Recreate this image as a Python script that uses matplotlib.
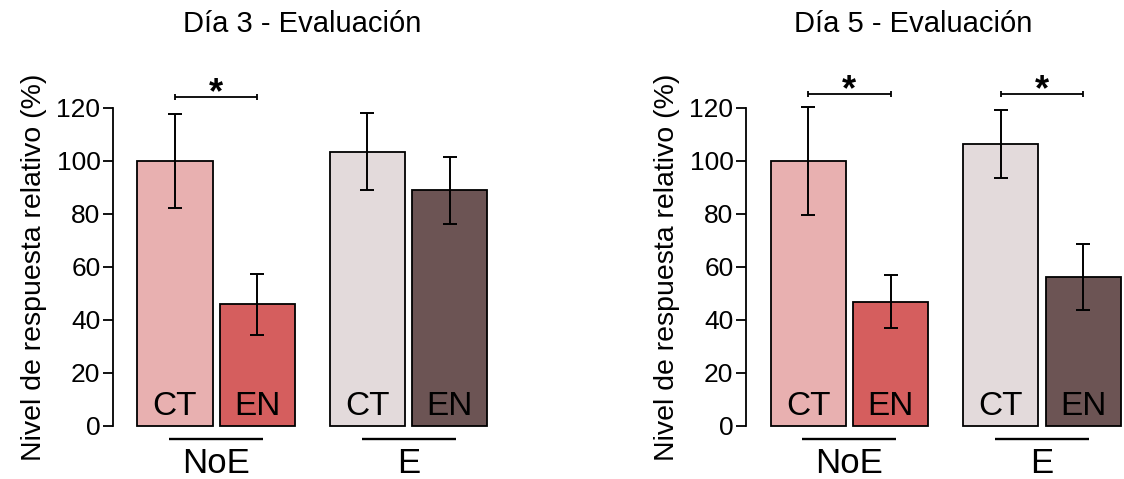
import matplotlib
matplotlib.use("Agg")
import matplotlib.pyplot as plt

plt.rcParams['font.family'] = ['Liberation Sans', 'DejaVu Sans']

titles = ["Día 3 - Evaluación", "Día 5 - Evaluación"]
ylabel = "Nivel de respuesta relativo (%)"
bar_labels = ["CT", "EN", "CT", "EN"]
groups = ["NoE", "E"]
colors = ['#E8B0B0', '#D55E5E', '#E3DADB', '#6C5454']

day3_mean = [100, 45.9, 103.5, 88.9]
day3_err = [17.8, 11.5, 14.5, 12.5]
day5_mean = [100, 46.8, 106.5, 56.2]
day5_err = [20.4, 10.0, 12.9, 12.5]

day3_sig = [(0, 1)]
day5_sig = [(0, 1), (2, 3)]

x = [0, 1, 2.333, 3.333]
group_x = [0.5, 2.833]

fig = plt.figure(figsize=(11.24, 4.79), dpi=100)
ax_l = fig.add_axes([0.1005, 0.1107, 0.334, 0.6639])
ax_r = fig.add_axes([0.6637, 0.1107, 0.3344, 0.6639])

panels = [
    (ax_l, day3_mean, day3_err, day3_sig, 124.3, titles[0], 0.503),
    (ax_r, day5_mean, day5_err, day5_sig, 125.3, titles[1], 0.444),
]

for ax, mean, err, sig, sig_y, title, tx in panels:
    ax.bar(x, mean, width=0.91, color=colors, edgecolor='black', linewidth=1.3,
           clip_on=False, zorder=2)
    ax.errorbar(x, mean, yerr=err, fmt='none', ecolor='black', elinewidth=1.4,
                capsize=5, capthick=1.4, clip_on=False, zorder=3)

    for xi, lab in zip(x, bar_labels):
        ax.text(xi, 4.15, lab, ha='center', va='baseline', fontsize=24)

    for gx, g in zip(group_x, groups):
        ax.plot([gx - 0.57, gx + 0.57], [-4.8, -4.8], color='black', lw=1.7,
                clip_on=False, solid_capstyle='butt')
        ax.text(gx, -17.7, g, ha='center', va='baseline', fontsize=25, clip_on=False)

    for a, b in sig:
        ax.errorbar([(x[a] + x[b]) / 2], [sig_y], xerr=[(x[b] - x[a]) / 2],
                    fmt='none', ecolor='black', elinewidth=1.3, capsize=2.5,
                    capthick=1.3, clip_on=False)
        ax.text((x[a] + x[b]) / 2, sig_y - 2.4, '*', ha='center', va='baseline',
                fontsize=26, fontweight='bold', clip_on=False)

    ax.set_xlim(-0.752, 3.8)
    ax.set_ylim(0, 120)
    ax.set_yticks([0, 20, 40, 60, 80, 100, 120])
    ax.tick_params(axis='y', labelsize=19, length=7, width=1.3, direction='out', pad=2)
    ax.set_xticks([])
    for s in ['top', 'right', 'bottom']:
        ax.spines[s].set_visible(False)
    ax.spines['left'].set_linewidth(1.3)
    ax.set_ylabel(ylabel, fontsize=20.5, va='center')
    ax.yaxis.set_label_coords(-0.21, 0.5)
    ax.text(tx, 1.264, title, transform=ax.transAxes, ha='center', va='center',
            fontsize=21)

fig.savefig("out.png", dpi=100)
